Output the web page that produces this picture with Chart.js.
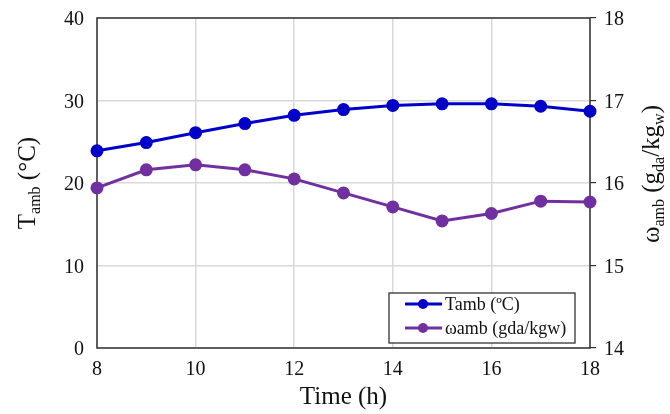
<!DOCTYPE html>
<html>
<head>
<meta charset="utf-8">
<script src="https://cdn.jsdelivr.net/npm/chart.js@4/dist/chart.umd.min.js"></script>
<style>
html,body{margin:0;padding:0;background:#fff;}
#wrap{width:670px;height:414px;position:relative;}
</style>
</head>
<body>
<div id="wrap"><canvas id="c" width="670" height="414"></canvas></div>
<script>
const hours = [8, 9, 10, 11, 12, 13, 14, 15, 16, 17, 18];
const tambValues = [23.9, 24.9, 26.1, 27.2, 28.2, 28.9, 29.4, 29.6, 29.6, 29.3, 28.7];
const omegaValues = [15.94, 16.16, 16.22, 16.16, 16.05, 15.88, 15.71, 15.54, 15.63, 15.78, 15.77];
const seriesLabels = ['Tamb (\u00BAC)', '\u03C9amb (gda/kgw)'];
const xTicks = [8, 10, 12, 14, 16, 18];
const leftTicks = [0, 10, 20, 30, 40];
const rightTicks = [14, 15, 16, 17, 18];

const SERIF = "'Liberation Serif', 'Times New Roman', serif";
const BLUE = '#0000C8';
const PURPLE = '#7030A0';

function drawRich(ctx, parts, cx, cy, rot) {
  ctx.save();
  ctx.translate(cx, cy);
  ctx.rotate(rot);
  ctx.textBaseline = 'alphabetic';
  ctx.textAlign = 'left';
  let w = 0;
  parts.forEach(p => { ctx.font = p.size + 'px ' + SERIF; p.w = ctx.measureText(p.t).width; w += p.w; });
  let x = -w / 2;
  ctx.fillStyle = '#111';
  parts.forEach(p => { ctx.font = p.size + 'px ' + SERIF; ctx.fillText(p.t, x, 8 + (p.dy || 0)); x += p.w; });
  ctx.restore();
}

const overlay = {
  id: 'overlay',
  beforeDatasetsDraw(chart) {
    const {ctx, chartArea: a} = chart;
    ctx.save();
    ctx.strokeStyle = '#333';
    ctx.lineWidth = 1.5;
    ctx.strokeRect(a.left, a.top, a.right - a.left, a.bottom - a.top);
    ctx.restore();
  },
  afterDraw(chart) {
    const {ctx, chartArea: a} = chart;
    drawRich(ctx, [{t: 'T', size: 25}, {t: 'amb', size: 16, dy: 5}, {t: ' (\u00B0C)', size: 25}], 27, 183, -Math.PI / 2);
    drawRich(ctx, [{t: '\u03C9', size: 25}, {t: 'amb', size: 16, dy: 5}, {t: ' (g', size: 25}, {t: 'da', size: 16, dy: 5},
                   {t: '/kg', size: 25}, {t: 'w', size: 16, dy: 5}, {t: ')', size: 25}], 651, 174, -Math.PI / 2);
    drawRich(ctx, [{t: 'Time (h)', size: 25}], (a.left + a.right) / 2, 396, 0);

    const bx = 389, by = 293, bw = 186, bh = 50;
    ctx.save();
    ctx.fillStyle = '#fff';
    ctx.fillRect(bx, by, bw, bh);
    ctx.strokeStyle = '#222';
    ctx.lineWidth = 1.2;
    ctx.strokeRect(bx, by, bw, bh);
    const ds = chart.data.datasets;
    ds.forEach((d, i) => {
      const y = by + 11 + i * 24;
      ctx.strokeStyle = d.borderColor;
      ctx.lineWidth = 3;
      ctx.beginPath();
      ctx.moveTo(bx + 16, y);
      ctx.lineTo(bx + 53, y);
      ctx.stroke();
      ctx.fillStyle = d.borderColor;
      ctx.beginPath();
      ctx.arc(bx + 34, y, 5, 0, Math.PI * 2);
      ctx.fill();
      ctx.fillStyle = '#111';
      ctx.font = '18px ' + SERIF;
      ctx.textBaseline = 'middle';
      ctx.textAlign = 'left';
      ctx.fillText(d.label, bx + 56, y + 1);
    });
    ctx.restore();
  }
};

function fitV(w) {
  return s => { s.width = w; s.paddingTop = 0; s.paddingBottom = 0; };
}

new Chart(document.getElementById('c'), {
  type: 'line',
  data: {
    datasets: [
      {
        label: seriesLabels[0],
        data: hours.map((h, i) => ({x: h, y: tambValues[i]})),
        borderColor: BLUE, backgroundColor: BLUE,
        borderWidth: 3, pointRadius: 5, pointHoverRadius: 5,
        yAxisID: 'y', clip: false, tension: 0
      },
      {
        label: seriesLabels[1],
        data: hours.map((h, i) => ({x: h, y: omegaValues[i]})),
        borderColor: PURPLE, backgroundColor: PURPLE,
        borderWidth: 3, pointRadius: 5, pointHoverRadius: 5,
        yAxisID: 'y1', clip: false, tension: 0
      }
    ]
  },
  options: {
    responsive: false,
    animation: false,
    layout: {padding: {top: 18, left: 0, right: 0, bottom: 0}},
    plugins: {legend: {display: false}, tooltip: {enabled: false}},
    scales: {
      x: {
        type: 'linear', min: 8, max: 18,
        afterBuildTicks: s => { s.ticks = xTicks.map(v => ({value: v})); },
        afterFit: s => { s.height = 66; s.paddingLeft = 0; s.paddingRight = 0; },
        grid: {color: '#d9d9d9', lineWidth: 1.5, drawTicks: false},
        border: {display: false},
        ticks: {padding: 10, color: '#111', font: {family: SERIF, size: 20}}
      },
      y: {
        position: 'left', min: 0, max: 40,
        afterBuildTicks: s => { s.ticks = leftTicks.map(v => ({value: v})); },
        afterFit: fitV(97),
        grid: {color: '#d9d9d9', lineWidth: 1.5, drawTicks: false},
        border: {display: false},
        ticks: {padding: 13, labelOffset: 2, color: '#111', font: {family: SERIF, size: 20}}
      },
      y1: {
        position: 'right', min: 14, max: 18,
        afterBuildTicks: s => { s.ticks = rightTicks.map(v => ({value: v})); },
        afterFit: fitV(80),
        grid: {drawOnChartArea: false, color: '#333', lineWidth: 1.2, tickLength: 6},
        border: {display: false},
        ticks: {padding: 8, labelOffset: 2, color: '#111', font: {family: SERIF, size: 20}}
      }
    }
  },
  plugins: [overlay]
});
</script>
</body>
</html>
